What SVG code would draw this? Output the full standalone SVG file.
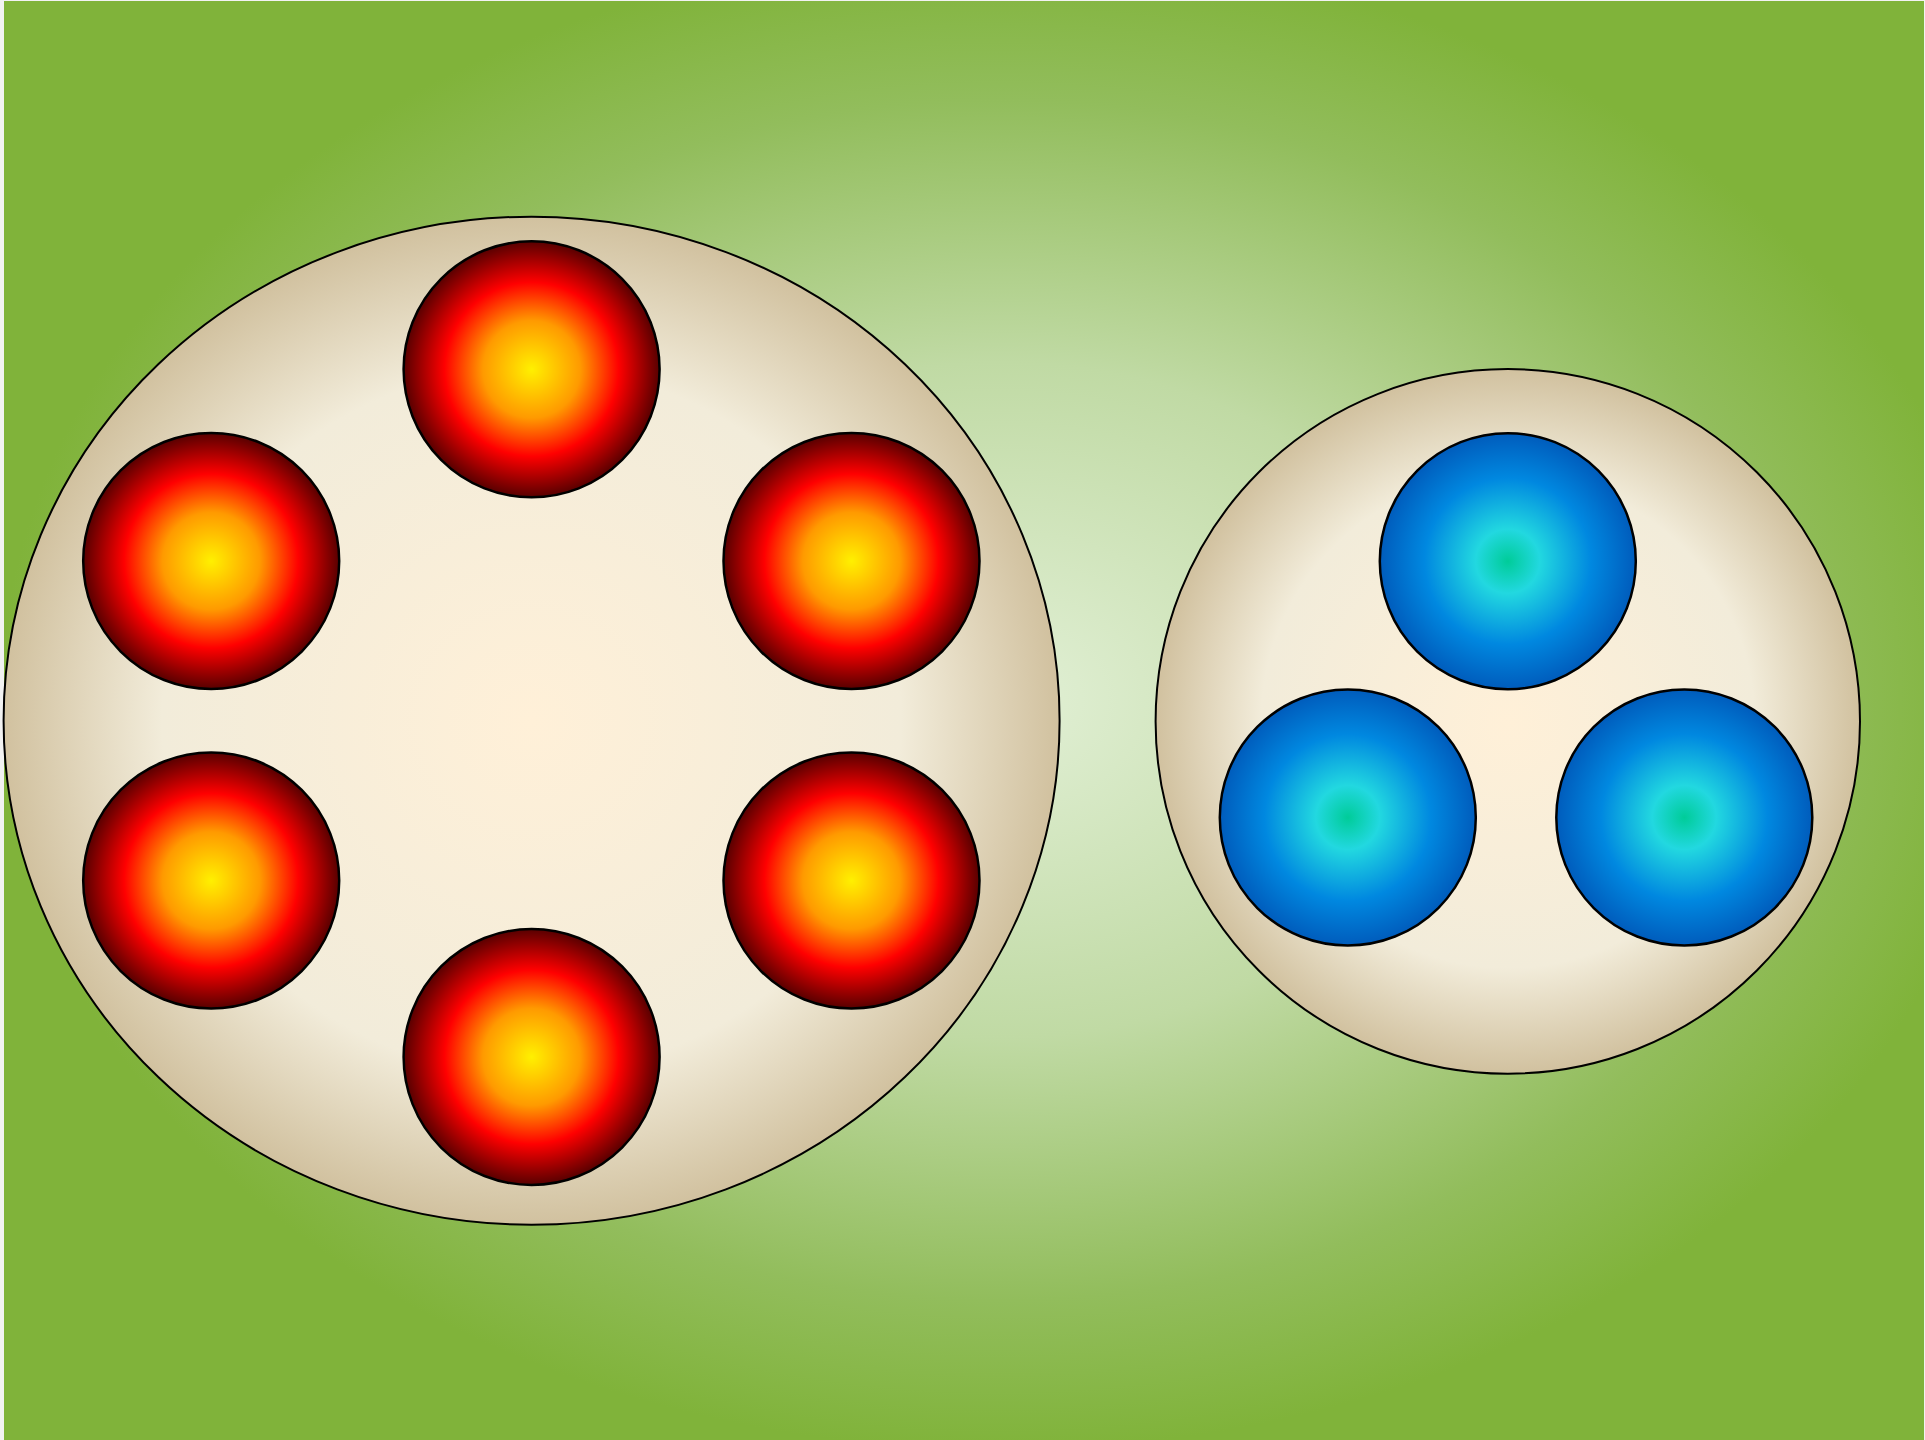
<svg xmlns="http://www.w3.org/2000/svg" width="1925" height="1440" viewBox="0 0 1925 1440">
<defs>
<radialGradient id="bg" gradientUnits="userSpaceOnUse" cx="1000" cy="700" r="1000" gradientTransform="translate(1000 700) scale(1 0.75) translate(-1000 -700)">
<stop offset="0" stop-color="#e2f0d6"/>
<stop offset="0.45" stop-color="#c0daa4"/>
<stop offset="0.8" stop-color="#92bd5c"/>
<stop offset="1" stop-color="#80b33a"/>
</radialGradient>
<radialGradient id="cell">
<stop offset="0" stop-color="#fff0d8"/>
<stop offset="0.7" stop-color="#f2ecda"/>
<stop offset="1" stop-color="#d1c19f"/>
</radialGradient>
<radialGradient id="red">
<stop offset="0" stop-color="#fff000"/>
<stop offset="0.38" stop-color="#ff9a00"/>
<stop offset="0.68" stop-color="#ff0000"/>
<stop offset="1" stop-color="#580000"/>
</radialGradient>
<radialGradient id="blue">
<stop offset="0" stop-color="#00cc99"/>
<stop offset="0.25" stop-color="#22d8e0"/>
<stop offset="0.65" stop-color="#0088e0"/>
<stop offset="1" stop-color="#005cbc"/>
</radialGradient>
</defs>
<style>
.cell{fill:url(#cell);stroke:#000;stroke-width:2}
.r{fill:url(#red);stroke:#000;stroke-width:2.5}
.b{fill:url(#blue);stroke:#000;stroke-width:2.5}
</style>
<rect x="0" y="0" width="1925" height="1440" fill="#f2f2f2"/>
<rect x="4" y="1" width="1920" height="1439" fill="url(#bg)"/>
<g id="left-cell">
<ellipse class="cell" cx="531.6" cy="720.7" rx="528" ry="504"/>
</g>
<g id="red-1"><circle class="r" cx="531.6" cy="369.3" r="128"/></g>
<g id="red-2"><circle class="r" cx="211.2" cy="561" r="128"/></g>
<g id="red-3"><circle class="r" cx="851.5" cy="561" r="128"/></g>
<g id="red-4"><circle class="r" cx="211.2" cy="880.5" r="128"/></g>
<g id="red-5"><circle class="r" cx="851.5" cy="880.5" r="128"/></g>
<g id="red-6"><circle class="r" cx="531.6" cy="1057" r="128"/></g>
<g id="right-cell">
<ellipse class="cell" cx="1507.8" cy="721.4" rx="352.2" ry="352.3"/>
</g>
<g id="blue-1"><circle class="b" cx="1507.8" cy="561.2" r="128"/></g>
<g id="blue-2"><circle class="b" cx="1347.8" cy="817.5" r="128"/></g>
<g id="blue-3"><circle class="b" cx="1684.3" cy="817.5" r="128"/></g>
<g id="connectors"/>
</svg>
